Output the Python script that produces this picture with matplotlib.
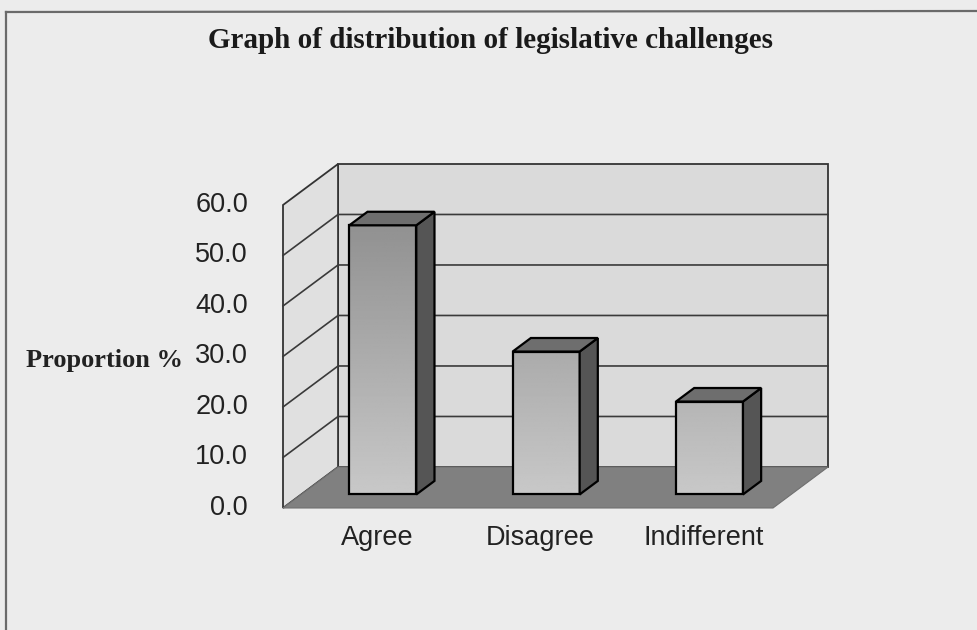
import numpy as np
import matplotlib.pyplot as plt
from matplotlib.patches import Polygon
from matplotlib.lines import Line2D

categories = ['Agree', 'Disagree', 'Indifferent']
proportions = [53.3, 28.3, 18.4]
ticks = [0, 10, 20, 30, 40, 50, 60]
tick_labels = ['0.0', '10.0', '20.0', '30.0', '40.0', '50.0', '60.0']

YMAX = 60
N = len(categories)
DX, DY = 0.337, 8.12      # oblique offset for one unit of depth
BAR_W = 0.41
Z0, Z1 = 0.33, 0.66        # bar depth range


def proj(x, y, z):
    return (x + z * DX, y + z * DY)


def face(pts, **kw):
    return Polygon([proj(*p) for p in pts], closed=True, **kw)


fig = plt.figure(figsize=(9.77, 6.30), dpi=100)
fig.patch.set_facecolor('#ececec')
ax = fig.add_axes([0, 0, 1, 1])
ax.set_xlim(-1.7327, 4.249)
ax.set_ylim(-24.16, 100.59)
ax.axis('off')

# outer border of the chart area
fig.add_artist(Line2D([6 / 977, 6 / 977], [0, 1 - 12 / 630], color='#6a6a6a', lw=1.6))
fig.add_artist(Line2D([6 / 977, 1], [1 - 12 / 630, 1 - 11 / 630], color='#6a6a6a', lw=1.6))

# walls
ax.add_patch(face([(0, 0, 1), (N, 0, 1), (N, YMAX, 1), (0, YMAX, 1)],
                  facecolor='#dadada', edgecolor='#333333', lw=1.3, zorder=1))
ax.add_patch(face([(0, 0, 0), (0, 0, 1), (0, YMAX, 1), (0, YMAX, 0)],
                  facecolor='#e0e0e0', edgecolor='#333333', lw=1.3, zorder=1))

# gridlines on back and side walls
for t in ticks[1:-1]:
    x0, y0 = proj(0, t, 0)
    x1, y1 = proj(0, t, 1)
    x2, y2 = proj(N, t, 1)
    ax.plot([x0, x1, x2], [y0, y1, y2], color='#3a3a3a', lw=1.2, zorder=2)

# floor
ax.add_patch(face([(0, 0, 0), (N, 0, 0), (N, 0, 1), (0, 0, 1)],
                  facecolor='#808080', edgecolor='#707070', lw=0.8, zorder=3))

# value gradient used for the bar fronts: darker towards the top
grad = np.linspace(138, 200, 256).reshape(-1, 1) / 255.0

for i, v in enumerate(proportions):
    xl = i + 0.5 - BAR_W / 2
    xr = i + 0.5 + BAR_W / 2
    front = face([(xl, 0, Z0), (xr, 0, Z0), (xr, v, Z0), (xl, v, Z0)],
                 facecolor='none', edgecolor='black', lw=1.6, zorder=6)
    fx0, fy0 = proj(xl, 0, Z0)
    fx1, _ = proj(xr, 0, Z0)
    im = ax.imshow(grad, cmap='gray', vmin=0, vmax=1, aspect='auto',
                   extent=(fx0, fx1, fy0, fy0 + YMAX), origin='upper', zorder=5)
    clip = face([(xl, 0, Z0), (xr, 0, Z0), (xr, v, Z0), (xl, v, Z0)],
                facecolor='none', edgecolor='none')
    ax.add_patch(clip)
    im.set_clip_path(clip)
    ax.add_patch(front)
    ax.add_patch(face([(xr, 0, Z0), (xr, 0, Z1), (xr, v, Z1), (xr, v, Z0)],
                      facecolor='#555555', edgecolor='black', lw=1.6, zorder=6))
    ax.add_patch(face([(xl, v, Z0), (xr, v, Z0), (xr, v, Z1), (xl, v, Z1)],
                      facecolor='#6e6e6e', edgecolor='black', lw=1.6, zorder=6))

# value axis labels
for t, lab in zip(ticks, tick_labels):
    ax.text(-0.214, t, lab, ha='right', va='center', fontsize=19.5,
            family='Liberation Sans', color='#222222', zorder=7)

for i, c in enumerate(categories):
    ax.text(i + 0.575, -3.4, c, ha='center', va='top', fontsize=19.5,
            family='Liberation Sans', color='#222222', zorder=7)

ax.text(-1.573, 29.3, 'Proportion %', ha='left', va='center', fontsize=19,
        family='Liberation Serif', fontweight='bold', color='#222222', zorder=7)

fig.text(491 / 977, 1 - 40 / 630, 'Graph of distribution of legislative challenges',
         ha='center', va='center', fontsize=21, family='Liberation Serif',
         fontweight='bold', color='#1a1a1a')

fig.savefig('out.png', dpi=100, facecolor=fig.get_facecolor())
